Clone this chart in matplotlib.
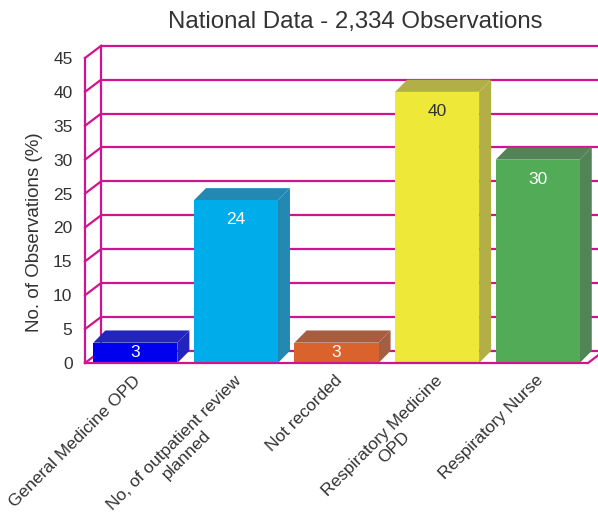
import matplotlib
matplotlib.use("Agg")
import matplotlib.pyplot as plt
from matplotlib.patches import Polygon
from matplotlib.transforms import ScaledTranslation

plt.rcParams['font.family'] = ['Liberation Sans', 'DejaVu Sans']

categories = ["General Medicine OPD", "No, of outpatient review\nplanned", "Not recorded",
              "Respiratory Medicine\nOPD", "Respiratory Nurse"]
values = [3, 24, 3, 40, 30]
yticks = [0, 5, 10, 15, 20, 25, 30, 35, 40, 45]
title = "National Data - 2,334 Observations"
ylabel = "No. of Observations (%)"

front_colors = ["#0000EE", "#00ADEB", "#D9622D", "#EEE838", "#52AC57"]
top_colors = ["#2323BE", "#2389B2", "#A65E42", "#B3AF47", "#538457"]
label_colors = ["white", "white", "white", "#333333", "white"]
grid_color = "#D0138E"
text_color = "#333333"

W, H, DPI = 598, 525, 100
fig = plt.figure(figsize=(W / DPI, H / DPI), dpi=DPI)
left_px, right_px, bottom_px, top_px = 85, 588, 363, 58
ax = fig.add_axes([left_px / W, 1 - bottom_px / H,
                   (right_px - left_px) / W, (bottom_px - top_px) / H])
ax.set_xlim(-0.5, len(categories) - 0.5)
ax.set_ylim(0, 45)
for s in ax.spines.values():
    s.set_visible(False)
ax.set_facecolor("none")

# depth of the wall frame and of the bars, in data units
wall_dx, wall_dy = 0.16, 1.8
bar_dx, bar_dy = 0.12, 1.8
x0, x1 = -0.5, len(categories) - 0.5
x_far = x1 + 0.7

lw = 1.6
# back wall gridlines and left wall diagonals
for t in yticks:
    ax.plot([x0 + wall_dx, x_far], [t + wall_dy, t + wall_dy], color=grid_color, lw=lw,
            clip_on=False, zorder=1, solid_capstyle="butt")
    ax.plot([x0, x0 + wall_dx], [t, t + wall_dy], color=grid_color, lw=lw,
            clip_on=False, zorder=1)
# verticals of the left wall
ax.plot([x0, x0], [0, 45], color=grid_color, lw=lw, clip_on=False, zorder=1)
ax.plot([x0 + wall_dx, x0 + wall_dx], [wall_dy, 45 + wall_dy], color=grid_color, lw=lw,
        clip_on=False, zorder=1)

# bars with a top and a side face
bw = 0.835
for i, (v, fc, tc, lc) in enumerate(zip(values, front_colors, top_colors, label_colors)):
    xl, xr = i - bw / 2, i + bw / 2
    ax.add_patch(Polygon([(xl, v), (xl + bar_dx, v + bar_dy), (xr + bar_dx, v + bar_dy), (xr, v)],
                         closed=True, facecolor=tc, edgecolor="none", zorder=3, clip_on=False))
    ax.add_patch(Polygon([(xr, 0), (xr, v), (xr + bar_dx, v + bar_dy), (xr + bar_dx, bar_dy)],
                         closed=True, facecolor=tc, edgecolor="none", zorder=3, clip_on=False))
    ax.bar(i, v, width=bw, color=fc, zorder=4, clip_on=False)
    ly = v - 2.9 if v > 6 else v / 2
    ax.text(i, ly, f"{v}", ha="center", va="center", color=lc, fontsize=12.5, zorder=5)

# floor front edge
ax.plot([x0, x1, x1 + wall_dx], [0, 0, wall_dy], color=grid_color, lw=lw, clip_on=False, zorder=6)

ax.set_yticks(yticks)
ax.set_yticklabels([str(t) for t in yticks], fontsize=12.5, color=text_color)
ax.tick_params(axis="y", length=0, pad=9)
ax.set_xticks(range(len(categories)))
ax.set_xticklabels(categories, rotation=45, ha="right", va="top", rotation_mode="anchor",
                   multialignment="center", linespacing=1.15, fontsize=12.5, color=text_color)
ax.tick_params(axis="x", length=0, pad=7)
shift = ScaledTranslation(-2 / DPI, 0, fig.dpi_scale_trans)
for lab in ax.get_xticklabels():
    lab.set_transform(lab.get_transform() + shift)
fig.text(35 / W, 1 - 232 / H, ylabel, ha="center", va="center", rotation=90,
         fontsize=13.5, color=text_color)
fig.text(355 / W, 1 - 22 / H, title, ha="center", va="center", fontsize=17.3, color=text_color)

fig.savefig("out.png", dpi=DPI, facecolor="white")
